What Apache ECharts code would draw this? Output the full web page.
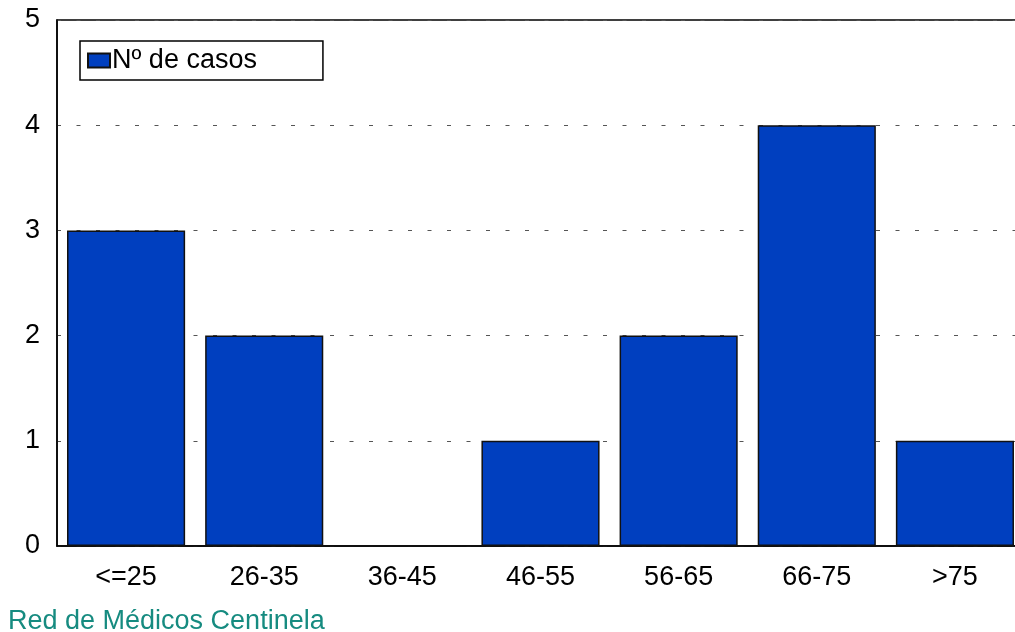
<!DOCTYPE html>
<html lang="es">
<head>
    <meta charset="UTF-8">
    <title>Nº de casos por edad</title>
    <script src="https://cdn.jsdelivr.net/npm/echarts@6/dist/echarts.min.js"></script>
    <style>
        html, body { margin: 0; padding: 0; background: #fff; overflow: hidden; }
        /* el gráfico original sale recortado por la derecha */
        #main { width: 1024px; height: 632px; }
    </style>
</head>
<body>
<div id="main"></div>
<script type="text/javascript">
    // datos
    var categorias = ['<=25', '26-35', '36-45', '46-55', '56-65', '66-75', '>75'];
    var casos = [3, 2, 0, 1, 2, 4, 1];
    var nombreSerie = 'Nº de casos';
    var pie = 'Red de Médicos Centinela';

    var fuente = '"Liberation Sans", Arial, sans-serif';
    var myChart = echarts.init(document.getElementById('main'));

    var option = {
        animation: false,
        textStyle: { fontFamily: fuente },
        title: {
            text: pie,
            left: 3,
            top: 603,
            textStyle: { color: '#168B80', fontSize: 27, fontWeight: 'normal', fontFamily: fuente }
        },
        legend: {
            data: [nombreSerie],
            left: 80,
            top: 41,
            orient: 'horizontal',
            backgroundColor: '#fff',
            borderColor: '#000',
            borderWidth: 1.5,
            padding: [6, 66, 6, 7],
            itemWidth: 22,
            itemHeight: 14,
            itemGap: 5,
            icon: 'rect',
            textStyle: { fontSize: 27, color: '#000', fontFamily: fuente, padding: [0, 0, 0, -3] }
        },
        grid: {
            left: 57,
            top: 20,
            right: 0,
            bottom: 86,
            show: true,
            borderColor: '#000',
            borderWidth: 1.5,
            backgroundColor: 'transparent'
        },
        xAxis: {
            type: 'category',
            data: categorias,
            axisLine: { lineStyle: { color: '#000', width: 1.5 } },
            axisTick: { show: false },
            axisLabel: { fontSize: 27, color: '#000', margin: 18, fontFamily: fuente }
        },
        yAxis: {
            type: 'value',
            min: 0,
            max: 5,
            interval: 1,
            axisLine: { show: true, lineStyle: { color: '#000', width: 1.5 } },
            axisTick: { show: false },
            axisLabel: { fontSize: 27, color: '#000', margin: 17, fontFamily: fuente },
            splitLine: { show: true, lineStyle: { color: '#555', type: [4, 15.5], width: 1 } }
        },
        series: [{
            name: nombreSerie,
            type: 'bar',
            data: casos,
            barWidth: '85.5%',
            itemStyle: { color: '#003FBF', borderColor: '#111', borderWidth: 1.5 }
        }]
    };
    myChart.setOption(option);
</script>
</body>
</html>
